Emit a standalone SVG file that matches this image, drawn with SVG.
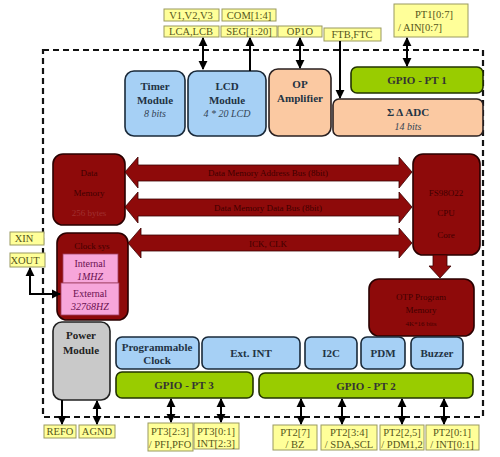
<svg xmlns="http://www.w3.org/2000/svg" width="500" height="457" viewBox="0 0 500 457">
<defs>
<marker id="ah" viewBox="0 0 10 10" refX="9" refY="5" markerWidth="4.5" markerHeight="5.5" orient="auto-start-reverse"><path d="M0,0 L10,5 L0,10 z" fill="#000"/></marker>
<style>
text{font-family:"Liberation Serif","Times New Roman",serif;text-anchor:middle}
.blue{fill:#a6d0f5;stroke:#1a2a3a;stroke-width:1.6}
.peach{fill:#fbc9a2;stroke:#2a2020;stroke-width:1.6}
.green{fill:#99cc00;stroke:#223300;stroke-width:1.6}
.red{fill:#8e0a0a;stroke:#2a0000;stroke-width:1.6}
.pink{fill:#f7a6da;stroke:#a04060;stroke-width:0.8}
.gray{fill:#c9c9c9;stroke:#222;stroke-width:1.6}
.lab{fill:#ffff99;stroke:#9a9a60;stroke-width:1}
.lt{font-size:10.5px;fill:#55551a}
.mt{font-size:11px;font-weight:bold;fill:#223344}
.mi{font-size:10px;font-style:italic;fill:#334455}
.rt{font-size:9px;fill:#400000}
.bus{fill:#8e0a0a;stroke:#3a0000;stroke-width:0.8}
.c{stroke:#000;stroke-width:2;fill:none}
</style>
</defs>
<rect width="500" height="457" fill="#fff"/>
<rect x="43" y="50" width="440" height="367" fill="none" stroke="#111" stroke-width="2.2" stroke-dasharray="6,4"/>

<g id="labels-top">
<g id="lab-v"><rect class="lab" x="164" y="9" width="55" height="12"/><text class="lt" x="191" y="19">V1,V2,V3</text></g>
<g id="lab-com"><rect class="lab" x="222" y="9" width="54" height="12"/><text class="lt" x="249" y="19">COM[1:4]</text></g>
<g id="lab-lca"><rect class="lab" x="164" y="26" width="55" height="11"/><text class="lt" x="191" y="35">LCA,LCB</text></g>
<g id="lab-seg"><rect class="lab" x="221" y="26" width="56" height="11"/><text class="lt" x="249" y="35">SEG[1:20]</text></g>
<g id="lab-op"><rect class="lab" x="278" y="26" width="44" height="11"/><text class="lt" x="300" y="35">OP1O</text></g>
<g id="lab-ft"><rect class="lab" x="324" y="28" width="57" height="13"/><text class="lt" x="352" y="38">FTB,FTC</text></g>
<g id="lab-pt1"><rect class="lab" x="394" y="4" width="74" height="33"/><text class="lt" x="434" y="18">PT1[0:7]</text><text class="lt" x="420" y="31">/ AIN[0:7]</text></g>
</g>

<g id="timer"><rect class="blue" x="125" y="71" width="60" height="65" rx="9"/><text class="mt" x="155" y="90">Timer</text><text class="mt" x="155" y="104">Module</text><text class="mi" x="155" y="117">8 bits</text></g>
<g id="lcd"><rect class="blue" x="188" y="71" width="78" height="65" rx="9"/><text class="mt" x="227" y="90">LCD</text><text class="mt" x="227" y="104">Module</text><text class="mi" x="227" y="117">4 * 20 LCD</text></g>
<g id="opamp"><rect class="peach" x="269" y="69" width="62" height="67" rx="9"/><text class="mt" x="300" y="88">OP</text><text class="mt" x="300" y="102">Amplifier</text></g>
<g id="gpio1"><rect class="green" x="351" y="67" width="132" height="26" rx="6"/><text class="mt" x="417" y="84" style="fill:#333">GPIO - PT 1</text></g>
<g id="adc"><rect class="peach" x="333" y="99" width="150" height="37" rx="6"/><text class="mt" x="408" y="116">Σ Δ ADC</text><text class="mi" x="408" y="130">14 bits</text></g>

<g id="datamem"><rect class="red" x="53" y="154" width="72" height="71" rx="10"/><text class="rt" x="89" y="176">Data</text><text class="rt" x="89" y="196">Memory</text><text class="rt" x="89" y="216" style="fill:#a03030">256 bytes</text></g>
<g id="cpu"><rect class="red" x="413" y="154" width="67" height="101" rx="10"/><text class="rt" x="446" y="196">FS98O22</text><text class="rt" x="446" y="216">CPU</text><text class="rt" x="446" y="238">Core</text></g>
<g id="otp"><rect class="red" x="369" y="279" width="105" height="57" rx="10"/><text class="rt" x="421" y="300">OTP Program</text><text class="rt" x="421" y="313">Memory</text><text class="rt" x="421" y="326" style="font-size:7px">4K*16 bits</text></g>
<g id="clock"><rect class="red" x="57" y="233" width="71" height="87" rx="10"/><text class="rt" x="92" y="249">Clock sys</text>
<g id="internal"><rect class="pink" x="63" y="254" width="55" height="29"/><text x="90" y="267" style="font-size:10px;fill:#6a1050">Internal</text><text x="90" y="280" style="font-size:10px;font-style:italic;fill:#6a1050">1MHZ</text></g>
<g id="external"><rect class="pink" x="61" y="283" width="58" height="32"/><text x="90" y="297" style="font-size:10px;fill:#6a1050">External</text><text x="90" y="310" style="font-size:10px;font-style:italic;fill:#6a1050">32768HZ</text></g>
</g>
<g id="xin"><rect class="lab" x="10" y="232" width="34" height="13"/><text class="lt" x="24" y="242">XIN</text></g>
<g id="xout"><rect class="lab" x="10" y="253" width="35" height="14"/><text class="lt" x="25" y="264">XOUT</text></g>

<g id="power"><rect class="gray" x="53" y="322" width="57" height="78" rx="9"/><text class="mt" x="81" y="339" style="fill:#222">Power</text><text class="mt" x="81" y="354" style="fill:#222">Module</text></g>
<g id="progclk"><rect class="blue" x="116" y="337" width="83" height="32" rx="6"/><text class="mt" x="157" y="351">Programmable</text><text class="mt" x="157" y="364">Clock</text></g>
<g id="extint"><rect class="blue" x="202" y="337" width="98" height="32" rx="6"/><text class="mt" x="251" y="357">Ext. INT</text></g>
<g id="i2c"><rect class="blue" x="305" y="337" width="52" height="32" rx="6"/><text class="mt" x="331" y="357">I2C</text></g>
<g id="pdm"><rect class="blue" x="361" y="337" width="44" height="32" rx="6"/><text class="mt" x="383" y="357">PDM</text></g>
<g id="buzzer"><rect class="blue" x="411" y="337" width="52" height="32" rx="6"/><text class="mt" x="437" y="357">Buzzer</text></g>
<g id="gpio3"><rect class="green" x="116" y="372" width="137" height="26" rx="6"/><text class="mt" x="184" y="389" style="fill:#333">GPIO - PT 3</text></g>
<g id="gpio2"><rect class="green" x="259" y="373" width="214" height="25" rx="6"/><text class="mt" x="366" y="390" style="fill:#333">GPIO - PT 2</text></g>

<g id="labels-bottom">
<g id="lab-refo"><rect class="lab" x="44" y="425" width="32" height="13"/><text class="lt" x="60" y="435">REFO</text></g>
<g id="lab-agnd"><rect class="lab" x="79" y="425" width="36" height="13"/><text class="lt" x="97" y="435">AGND</text></g>
<g id="lab-pt3a"><rect class="lab" x="148" y="423" width="45" height="28"/><text class="lt" x="170" y="435">PT3[2:3]</text><text class="lt" x="170" y="448">/ PFI,PFO</text></g>
<g id="lab-pt3b"><rect class="lab" x="194" y="423" width="45" height="26"/><text class="lt" x="216" y="435">PT3[0:1]</text><text class="lt" x="216" y="447">INT[2:3]</text></g>
<g id="lab-pt2a"><rect class="lab" x="273" y="425" width="44" height="25"/><text class="lt" x="295" y="436">PT2[7]</text><text class="lt" x="295" y="448">/ BZ</text></g>
<g id="lab-pt2b"><rect class="lab" x="321" y="425" width="56" height="25"/><text class="lt" x="349" y="436">PT2[3:4]</text><text class="lt" x="349" y="448">/ SDA,SCL</text></g>
<g id="lab-pt2c"><rect class="lab" x="380" y="425" width="44" height="25"/><text class="lt" x="402" y="436">PT2[2,5]</text><text class="lt" x="402" y="448">/ PDM1,2</text></g>
<g id="lab-pt2d"><rect class="lab" x="426" y="425" width="53" height="25"/><text class="lt" x="452" y="436">PT2[0:1]</text><text class="lt" x="452" y="448">/ INT[0:1]</text></g>
</g>

<g id="buses">
<path class="bus" d="M125,172 L138,157 L138,165 L399,165 L399,157 L412,172 L399,188 L399,181 L138,181 L138,188 z"/>
<text class="rt" x="268" y="176">Data Memory Address Bus (8bit)</text>
<path class="bus" d="M125,207 L138,192 L138,199 L399,199 L399,192 L412,207 L399,223 L399,216 L138,216 L138,223 z"/>
<text class="rt" x="268" y="211">Data Memory Data Bus (8bit)</text>
<path class="bus" d="M128,243 L141,228 L141,235 L399,235 L399,228 L412,243 L399,258 L399,251 L141,251 L141,258 z"/>
<text class="rt" x="268" y="247">ICK, CLK</text>
<path class="bus" d="M433,255 L447,255 L447,266 L451,266 L440,278 L429,266 L433,266 z"/>
</g>

<g id="connectors">
<line class="c" x1="203" y1="38" x2="203" y2="69" marker-start="url(#ah)" marker-end="url(#ah)"/>
<line class="c" x1="250" y1="71" x2="250" y2="38" marker-end="url(#ah)"/>
<line class="c" x1="300" y1="38" x2="300" y2="68" marker-start="url(#ah)" marker-end="url(#ah)"/>
<line class="c" x1="340" y1="41" x2="340" y2="98" marker-end="url(#ah)"/>
<line class="c" x1="407" y1="38" x2="407" y2="66" marker-start="url(#ah)" marker-end="url(#ah)"/>
<polyline class="c" points="30,268 30,294 60,294" marker-start="url(#ah)" marker-end="url(#ah)"/>
<line class="c" x1="62" y1="400" x2="62" y2="424" marker-end="url(#ah)"/>
<line class="c" x1="97" y1="401" x2="97" y2="424" marker-start="url(#ah)" marker-end="url(#ah)"/>
<line class="c" x1="171" y1="399" x2="171" y2="422" marker-start="url(#ah)" marker-end="url(#ah)"/>
<line class="c" x1="221" y1="399" x2="221" y2="422" marker-start="url(#ah)" marker-end="url(#ah)"/>
<line class="c" x1="301" y1="399" x2="301" y2="424" marker-start="url(#ah)" marker-end="url(#ah)"/>
<line class="c" x1="342" y1="399" x2="342" y2="424" marker-start="url(#ah)" marker-end="url(#ah)"/>
<line class="c" x1="402" y1="399" x2="402" y2="424" marker-start="url(#ah)" marker-end="url(#ah)"/>
<line class="c" x1="444" y1="399" x2="444" y2="424" marker-start="url(#ah)" marker-end="url(#ah)"/>
</g>
</svg>
